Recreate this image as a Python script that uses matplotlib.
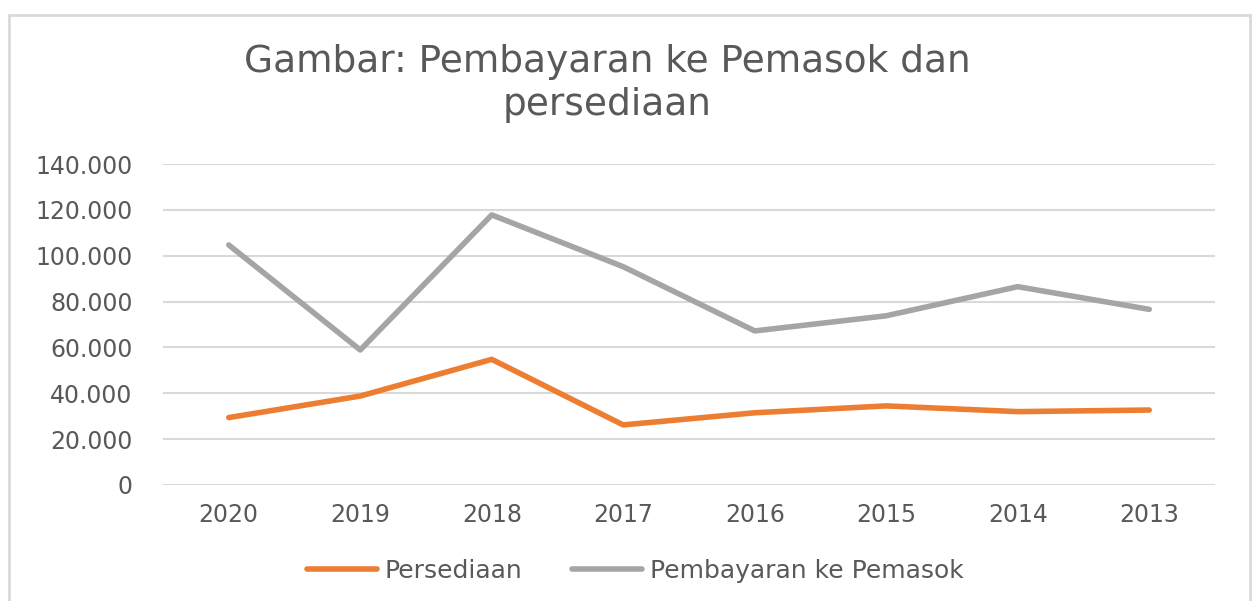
import matplotlib.pyplot as plt
from matplotlib.patches import Rectangle
from matplotlib.ticker import FuncFormatter

years = ['2020', '2019', '2018', '2017', '2016', '2015', '2014', '2013']
persediaan = [29400, 38800, 54800, 26200, 31500, 34500, 32000, 32700]
pembayaran = [104700, 58900, 117800, 95200, 67200, 73800, 86500, 76600]

text_col = '#595959'
grid_col = '#D9D9D9'

plt.rcParams['font.family'] = ['DejaVu Sans']

fig = plt.figure(figsize=(12.52, 6.01), dpi=100)
fig.patches.append(Rectangle((9 / 1252, -0.1), 1241 / 1252, 1.1 - 15 / 601,
                             transform=fig.transFigure, fill=False,
                             edgecolor=grid_col, linewidth=2))

ax = fig.add_axes([163 / 1252, 1 - 485 / 601, 1052 / 1252, 321 / 601])
x = range(len(years))
ax.plot(x, persediaan, color='#ED7D31', lw=4, solid_capstyle='round',
        solid_joinstyle='round', label='Persediaan')
ax.plot(x, pembayaran, color='#A5A5A5', lw=4, solid_capstyle='round',
        solid_joinstyle='round', label='Pembayaran ke Pemasok')

ax.set_xlim(-0.5, len(years) - 0.5)
ax.set_ylim(0, 140000)
ax.set_yticks(range(0, 140001, 20000))
ax.yaxis.set_major_formatter(FuncFormatter(lambda v, p: f'{int(v):,}'.replace(',', '.')))
ax.set_xticks(list(x))
ax.set_xticklabels(years)
ax.grid(axis='y', color=grid_col, lw=1.5)
ax.set_axisbelow(True)
for s in ax.spines.values():
    s.set_visible(False)
ax.tick_params(length=0, labelsize=17, colors=text_col)
ax.tick_params(axis='y', pad=22)
ax.tick_params(axis='x', pad=13)

fig.text(607 / 1252, 1 - 62 / 601, 'Gambar: Pembayaran ke Pemasok dan',
         ha='center', va='center', fontsize=27, color=text_col)
fig.text(607 / 1252, 1 - 105 / 601, 'persediaan',
         ha='center', va='center', fontsize=27, color=text_col)

fig.legend(loc='center', bbox_to_anchor=(635 / 1252, 1 - 571 / 601), ncol=2,
           frameon=False, fontsize=18, labelcolor=text_col, handlelength=2.8,
           handletextpad=0.3, columnspacing=2.0)

fig.savefig('out.png', dpi=100)
